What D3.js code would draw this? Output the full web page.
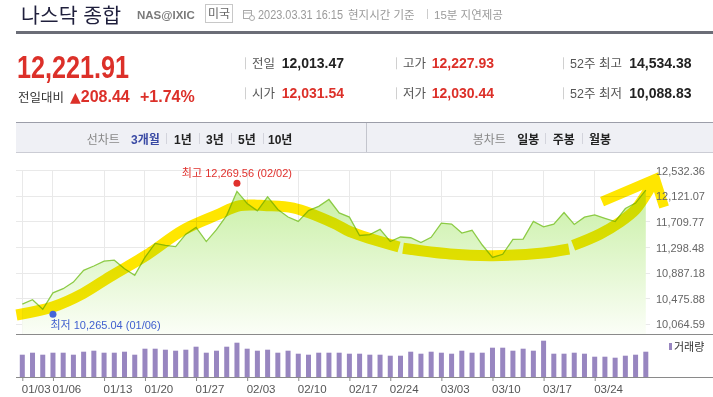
<!DOCTYPE html>
<html lang="ko">
<head>
<meta charset="utf-8">
<script src="https://cdn.jsdelivr.net/npm/d3@7"></script>
<style>
  body { margin: 0; background: #fff; }
  svg { display: block; font-family: "Liberation Sans", "Noto Sans CJK KR", sans-serif; }
</style>
</head>
<body>
<div id="chart"></div>
<script>
// trading days, 2023 Q1
const dates = ["01/03","01/04","01/05","01/06","01/09","01/10","01/11","01/12","01/13","01/17","01/18","01/19","01/20",
  "01/23","01/24","01/25","01/26","01/27","01/30","01/31","02/01","02/02","02/03","02/06","02/07","02/08","02/09","02/10",
  "02/13","02/14","02/15","02/16","02/17","02/21","02/22","02/23","02/24","02/27","02/28","03/01","03/02","03/03",
  "03/06","03/07","03/08","03/09","03/10","03/13","03/14","03/15","03/16","03/17","03/20","03/21","03/22","03/23","03/24",
  "03/27","03/28","03/29","03/30","03/31"];

const closes = [10386.98,10458.76,10305.24,10569.29,10635.65,10742.63,10931.67,11001.10,11079.16,11095.11,10957.01,10852.27,11140.43,
  11364.41,11334.27,11313.36,11512.41,11621.71,11393.81,11584.55,11816.32,12200.82,12006.96,11887.45,12113.79,11910.52,11789.58,11718.12,
  11891.79,11960.15,12070.59,11855.83,11787.27,11492.30,11507.07,11590.40,11394.94,11466.98,11455.54,11379.48,11462.98,11689.01,
  11675.74,11530.33,11576.00,11338.36,11138.89,11188.84,11428.15,11434.05,11717.28,11630.51,11675.54,11860.11,11669.96,11787.40,11823.96,
  11768.84,11716.08,11926.24,12013.47,12221.91];

// volume, billions of shares
const volumes = [4.46,4.86,4.46,4.86,4.86,4.46,5.06,5.26,4.86,4.86,5.06,4.46,5.66,
  5.66,5.46,5.26,5.46,6.06,4.86,5.26,6.06,6.86,5.66,5.26,5.46,4.86,5.26,4.66,
  4.46,4.86,4.86,4.86,4.66,4.66,4.46,4.46,4.26,4.26,5.06,4.66,5.06,4.86,
  4.66,5.26,4.86,4.86,5.86,5.86,5.26,5.66,5.26,7.26,4.66,4.66,4.86,4.66,4.06,
  4.06,3.86,4.26,4.46,5.06];

const yTicks = [10064.59, 10475.88, 10887.18, 11298.48, 11709.77, 12121.07, 12532.36];
const xTickDates = ["01/03","01/06","01/13","01/20","01/27","02/03","02/10","02/17","02/24","03/03","03/10","03/17","03/24"];

const highPoint = ["02/02", 12269.56];
const lowPoint = ["01/06", 10265.04];

// hand-drawn highlighter over the chart, as [day index, value]
const trendA = [[-0.57,10213],[3.03,10346],[5.97,10562],[8.58,10829],[12.17,11178],[15.75,11580],[19.02,11821],
  [21.3,11971],[23.91,11971],[26.52,11934],[30.43,11693],[32.06,11553],[36.86,11306]];
const trendB = [[37.25,11286],[41.85,11194],[46.06,11167],[50.95,11210],[53.49,11274]];
const trendC = [[53.89,11331],[56.53,11516],[58.49,11709],[59.95,11902],[60.93,12127],[61.62,12318],[61.91,12399]];
const arrowBarbs = [[56.72,12038],[61.91,12399],[62.79,11950]];

// quote header
const infoLabels = [["전일","시가"],["고가","저가"],["52주 최고","52주 최저"]];
const infoValues = [["12,013.47","12,031.54"],["12,227.93","12,030.44"],["14,534.38","10,088.83"]];
const infoRed = [[false,true],[true,true],[false,false]];
const lineTabs = ["3개월","1년","3년","5년","10년"];
const candleTabs = ["일봉","주봉","월봉"];

const W = 713, H = 397;
const svg = d3.select("#chart").append("svg").attr("width", W).attr("height", H);
const RED = "#dc3029";

// ---- header ----
svg.append("text").attr("x", 21).attr("y", 23).attr("font-size", 20.5)
  .attr("font-family", "Noto Sans CJK KR").attr("fill", "#1f1f3c").text("나스닥 종합");
svg.append("text").attr("x", 137).attr("y", 18.5).attr("font-size", 11.5).attr("font-weight", "bold")
  .attr("fill", "#7a7a7a").text("NAS@IXIC");
svg.append("rect").attr("x", 205.5).attr("y", 4.5).attr("width", 27).attr("height", 18)
  .attr("fill", "none").attr("stroke", "#c8c8c8");
svg.append("text").attr("x", 219).attr("y", 18).attr("text-anchor", "middle").attr("font-size", 12)
  .attr("fill", "#666").text("미국");

// little calendar icon
const ic = svg.append("g").attr("stroke", "#aaa").attr("fill", "none");
ic.append("rect").attr("x", 243.5).attr("y", 10.5).attr("width", 8).attr("height", 8);
ic.append("line").attr("x1", 243.5).attr("x2", 251.5).attr("y1", 13).attr("y2", 13);
ic.append("circle").attr("cx", 252).attr("cy", 18).attr("r", 2.5).attr("fill", "#fff");

svg.append("text").attr("x", 258).attr("y", 19).attr("font-size", 12).attr("fill", "#9a9a9a")
  .attr("textLength", 85).attr("lengthAdjust", "spacingAndGlyphs").text("2023.03.31 16:15");
svg.append("text").attr("x", 348).attr("y", 19).attr("font-size", 11.5).attr("fill", "#9a9a9a").text("현지시간 기준");
svg.append("line").attr("x1", 427.5).attr("x2", 427.5).attr("y1", 9).attr("y2", 19).attr("stroke", "#ccc");
svg.append("text").attr("x", 434).attr("y", 19).attr("font-size", 11.5).attr("fill", "#9a9a9a").text("15분 지연제공");

svg.append("rect").attr("x", 16).attr("y", 31).attr("width", W - 16).attr("height", 3).attr("fill", "#6b6d77");

// price
svg.append("text").attr("x", 17).attr("y", 78).attr("font-size", 32).attr("font-weight", "bold")
  .attr("fill", RED).attr("textLength", 112).attr("lengthAdjust", "spacingAndGlyphs").text("12,221.91");
svg.append("text").attr("x", 18).attr("y", 101.5).attr("font-size", 12.5).attr("fill", "#333").text("전일대비");
const chg = svg.append("text").attr("x", 70).attr("y", 101.5).attr("fill", RED).attr("font-weight", "bold");
chg.append("tspan").attr("font-size", 14).attr("font-family", "DejaVu Sans").attr("font-weight", "normal").text("▲");
chg.append("tspan").attr("font-size", 16).text("208.44");
chg.append("tspan").attr("x", 140).attr("font-size", 16).text("+1.74%");

// quote grid
const colX = [245, 396, 563];
const valX = [281.7, 431.7, 629.3];
const rowY = [68.3, 98.3];
colX.forEach((cx, c) => {
  rowY.forEach((ry, r) => {
    svg.append("line").attr("x1", cx + 0.5).attr("x2", cx + 0.5).attr("y1", ry - 11).attr("y2", ry + 1)
      .attr("stroke", "#d0d0d0");
    svg.append("text").attr("x", cx + 7).attr("y", ry).attr("font-size", 12.5).attr("fill", "#555")
      .text(infoLabels[c][r]);
    svg.append("text").attr("x", valX[c]).attr("y", ry).attr("font-size", 14).attr("font-weight", "bold")
      .attr("fill", infoRed[c][r] ? RED : "#222").text(infoValues[c][r]);
  });
});

// tab bar
svg.append("rect").attr("x", 16).attr("y", 122).attr("width", W - 16).attr("height", 31).attr("fill", "#eff0f5");
svg.append("line").attr("x1", 16).attr("x2", W).attr("y1", 122.5).attr("y2", 122.5).attr("stroke", "#9c9ea9");
svg.append("line").attr("x1", 16).attr("x2", W).attr("y1", 152.5).attr("y2", 152.5).attr("stroke", "#cbccd4");
svg.append("line").attr("x1", 366.5).attr("x2", 366.5).attr("y1", 123).attr("y2", 152).attr("stroke", "#c3c5cd");

const tabY = 143.5;
svg.append("text").attr("x", 86.7).attr("y", tabY).attr("font-size", 12).attr("fill", "#888").text("선차트");
const lineTabX = [131, 174, 206, 238, 268];
lineTabs.forEach((t, i) => {
  svg.append("text").attr("x", lineTabX[i]).attr("y", tabY).attr("font-size", 12).attr("font-weight", "bold")
    .attr("fill", i === 0 ? "#3a4aa4" : "#222").text(t);
});
[166, 199, 231, 263].forEach(sx => svg.append("line").attr("x1", sx + 0.5).attr("x2", sx + 0.5)
  .attr("y1", 133).attr("y2", 144).attr("stroke", "#d3d4dc"));
svg.append("text").attr("x", 472.7).attr("y", tabY).attr("font-size", 12).attr("fill", "#888").text("봉차트");
const candleTabX = [517.3, 552.7, 589];
candleTabs.forEach((t, i) => {
  svg.append("text").attr("x", candleTabX[i]).attr("y", tabY).attr("font-size", 12).attr("font-weight", "bold")
    .attr("fill", "#222").text(t);
});
[545, 582].forEach(sx => svg.append("line").attr("x1", sx + 0.5).attr("x2", sx + 0.5)
  .attr("y1", 133).attr("y2", 144).attr("stroke", "#d3d4dc"));

// ---- price chart ----
const x = d3.scaleLinear().domain([0, dates.length - 1]).range([22.3, 645.8]);
const y = d3.scaleLinear().domain([yTicks[0], yTicks[yTicks.length - 1]]).range([324.2, 170.8]);
const yVol = d3.scaleLinear().domain([0, 9]).range([377, 332]);
const idx = d => dates.indexOf(d);
const plotBottom = 334;

const grad = svg.append("defs").append("linearGradient").attr("id", "fillGrad")
  .attr("gradientUnits", "userSpaceOnUse").attr("x1", 0).attr("x2", 0).attr("y1", 170).attr("y2", plotBottom);
grad.append("stop").attr("offset", 0).attr("stop-color", "#c2ee9a");
grad.append("stop").attr("offset", 1).attr("stop-color", "#fbfef7");

const grid = svg.append("g").attr("stroke", "#e9e9e9").attr("shape-rendering", "crispEdges");
grid.selectAll(".h").data(yTicks).enter().append("line")
  .attr("x1", 16).attr("x2", 650).attr("y1", d => y(d)).attr("y2", d => y(d));
grid.selectAll(".v").data(xTickDates).enter().append("line")
  .attr("x1", d => x(idx(d))).attr("x2", d => x(idx(d))).attr("y1", y(yTicks[yTicks.length - 1])).attr("y2", plotBottom);

svg.append("path").datum(closes)
  .attr("d", d3.area().x((d, i) => x(i)).y0(plotBottom).y1(d => y(d)))
  .attr("fill", "url(#fillGrad)");
svg.append("path").datum(closes)
  .attr("d", d3.line().x((d, i) => x(i)).y(d => y(d)))
  .attr("fill", "none").attr("stroke", "#8ccb45").attr("stroke-width", 1.3);

// highlighter
const hl = svg.append("g").style("mix-blend-mode", "multiply")
  .attr("fill", "none").attr("stroke", "#ffe600").attr("stroke-width", 11);
const trendLine = d3.line().x(d => x(d[0])).y(d => y(d[1])).curve(d3.curveCatmullRom.alpha(0.5));
[trendA, trendB, trendC].forEach(seg => hl.append("path").attr("d", trendLine(seg)));
hl.append("path").attr("d", d3.line().x(d => x(d[0])).y(d => y(d[1]))(arrowBarbs))
  .attr("stroke-width", 10).attr("stroke-linejoin", "miter").attr("stroke-miterlimit", 10);

// high / low markers
svg.append("circle").attr("cx", x(idx(highPoint[0]))).attr("cy", y(highPoint[1]) - 4).attr("r", 3.5).attr("fill", "#e0312d");
svg.append("text").attr("x", x(idx(highPoint[0]))).attr("y", y(highPoint[1]) - 10).attr("text-anchor", "middle")
  .attr("font-size", 11).attr("fill", "#e0312d")
  .text(`최고 ${d3.format(",.2f")(highPoint[1])} (${highPoint[0]})`);
svg.append("circle").attr("cx", x(idx(lowPoint[0]))).attr("cy", y(lowPoint[1]) + 2.5).attr("r", 3.5).attr("fill", "#4466d8");
svg.append("text").attr("x", x(idx(lowPoint[0])) - 2.5).attr("y", y(lowPoint[1]) + 17).attr("font-size", 11)
  .attr("fill", "#3f5fcf")
  .text(`최저 ${d3.format(",.2f")(lowPoint[1])} (${lowPoint[0]})`);

// right price axis
svg.append("g").attr("transform", "translate(656,0)")
  .call(d3.axisRight(y).tickValues(yTicks).tickFormat(d3.format(",.2f")).tickSize(0).tickPadding(0))
  .call(g => g.select(".domain").remove())
  .call(g => g.selectAll("text").attr("font-size", 11).attr("fill", "#666").attr("font-family", null))
  .attr("font-family", null).attr("font-size", null);

svg.append("line").attr("x1", 16).attr("x2", W).attr("y1", plotBottom + 0.5).attr("y2", plotBottom + 0.5)
  .attr("stroke", "#8a8a8a");

// ---- volume ----
svg.append("g").attr("fill", "#9886c0").selectAll("rect").data(volumes).enter().append("rect")
  .attr("x", (d, i) => x(i) - 2.5).attr("width", 5)
  .attr("y", d => yVol(d)).attr("height", d => yVol(0) - yVol(d));

svg.append("rect").attr("x", 669).attr("y", 343).attr("width", 3).attr("height", 7).attr("fill", "#9886c0");
svg.append("text").attr("x", 674).attr("y", 351).attr("font-size", 11).attr("fill", "#333").text("거래량");

svg.append("line").attr("x1", 16).attr("x2", W).attr("y1", 377.5).attr("y2", 377.5).attr("stroke", "#8a8a8a");

svg.append("g").attr("transform", "translate(0,377)")
  .call(d3.axisBottom(x).tickValues(xTickDates.map(idx)).tickFormat(i => dates[i]).tickSize(4))
  .attr("font-family", null).attr("font-size", null)
  .call(g => g.select(".domain").remove())
  .call(g => g.selectAll("line").attr("stroke", "#8a8a8a"))
  .call(g => g.selectAll("text").attr("text-anchor", "start").attr("x", -1).attr("y", 8)
    .attr("font-size", 11.5).attr("fill", "#555"));
</script>
</body>
</html>
